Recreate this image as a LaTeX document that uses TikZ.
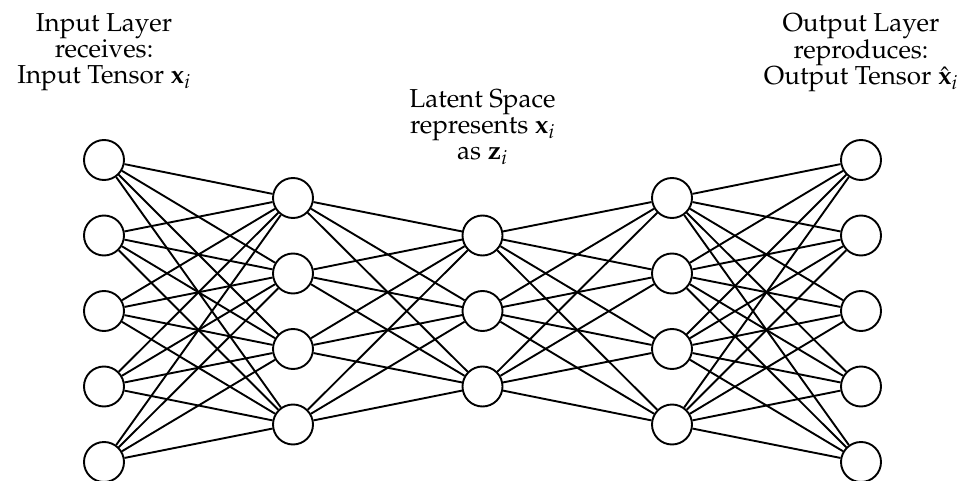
\documentclass[tikz,border=0pt]{standalone}
\usepackage[T1]{fontenc}
\usepackage{mathpazo}
\begin{document}
\begin{tikzpicture}[x=1pt,y=-1pt,
  neuron/.style={circle, draw, line width=1.9pt, fill=white, minimum size=40pt, inner sep=0pt},
  link/.style={line width=1.9pt},
  caption/.style={align=center, inner sep=0pt, anchor=north, font=\fontsize{26pt}{26pt}\selectfont}]
\useasboundingbox (0,0) rectangle (966,481);
% layers: 5 - 4 - 3 - 4 - 5
\foreach \i in {1,...,5} {
  \node[neuron] (a\i) at (104, {160+(\i-1)*75.5}) {};
  \node[neuron] (e\i) at (861, {160+(\i-1)*75.5}) {};
}
\foreach \i in {1,...,4} {
  \node[neuron] (b\i) at (293, {198+(\i-1)*75.5}) {};
  \node[neuron] (d\i) at (672, {198+(\i-1)*75.5}) {};
}
\foreach \i in {1,...,3} {
  \node[neuron] (c\i) at (482.5, {235.5+(\i-1)*75.5}) {};
}
% full connections between neighbouring layers
\foreach \i in {1,...,5} \foreach \j in {1,...,4} {
  \draw[link] (a\i) -- (b\j);
  \draw[link] (d\j) -- (e\i);
}
\foreach \i in {1,...,4} \foreach \j in {1,...,3} {
  \draw[link] (b\i) -- (c\j);
  \draw[link] (c\j) -- (d\i);
}
% captions
\node[caption] (inlabel) at (104,13) {Input Layer\\receives:\\Input Tensor $\mathbf{x}_i$};
\node[caption] (latlabel) at (482.5,89) {Latent Space\\represents $\mathbf{x}_i$\\as $\mathbf{z}_i$};
\node[caption] (outlabel) at (861,13) {Output Layer\\reproduces:\\Output Tensor $\hat{\mathbf{x}}_i$};
\end{tikzpicture}
\end{document}
